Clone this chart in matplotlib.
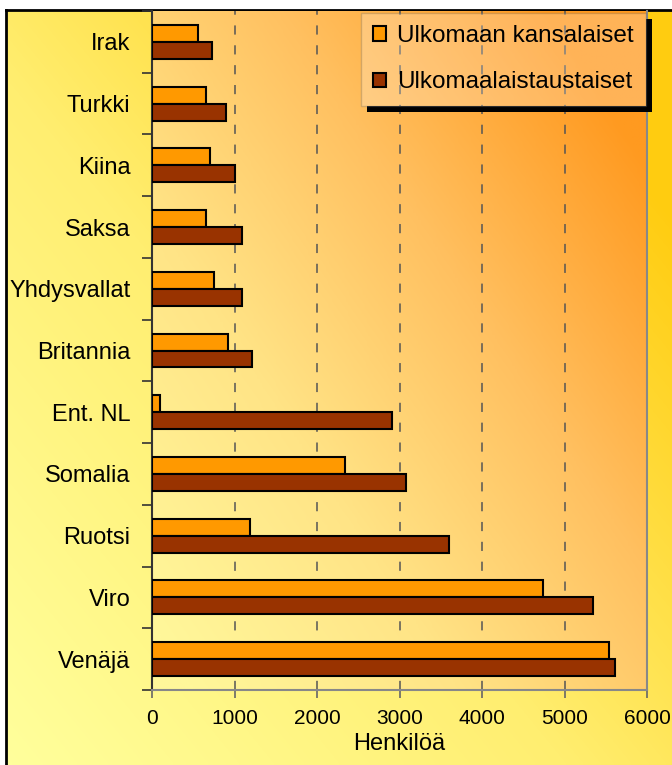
import numpy as np
import matplotlib
matplotlib.use("Agg")
import matplotlib.pyplot as plt
from matplotlib.colors import LinearSegmentedColormap
from matplotlib.patches import Rectangle

plt.rcParams['font.family'] = ['Liberation Sans', 'DejaVu Sans']

# Data (bottom to top)
categories = ["Venäjä", "Viro", "Ruotsi", "Somalia", "Ent. NL", "Britannia",
              "Yhdysvallat", "Saksa", "Kiina", "Turkki", "Irak"]
kansalaiset = [5540, 4740, 1185, 2345, 95, 920, 750, 655, 700, 655, 555]
taustaiset = [5610, 5345, 3605, 3075, 2905, 1210, 1090, 1090, 1000, 895, 725]
xticks = [0, 1000, 2000, 3000, 4000, 5000, 6000]
series_names = ["Ulkomaan kansalaiset", "Ulkomaalaistaustaiset"]

W, H = 672, 765
fig = plt.figure(figsize=(W / 100, H / 100), dpi=100)
fig.patch.set_facecolor('white')

# Figure background gradient with border
bx0, by1 = 6 / W, (H - 10) / H
bg = fig.add_axes([bx0, 0, 1 - bx0 + 0.01, by1], zorder=-10)
yy, xx = np.mgrid[0:1:200j, 0:1:200j]
t = np.clip((xx * 0.6 + yy * 0.55), 0, 1)
cm_fig = LinearSegmentedColormap.from_list("f", ["#FFFF9C", "#FFEE70", "#FFCC10"])
bg.imshow(t, cmap=cm_fig, origin='lower', extent=[0, 1, 0, 1], aspect='auto',
          interpolation='bilinear')
bg.set_xlim(0, 1)
bg.set_ylim(0, 1)
bg.set_xticks([])
bg.set_yticks([])
for s in ['top', 'left']:
    bg.spines[s].set_linewidth(2.0)
    bg.spines[s].set_color('black')
for s in ['right', 'bottom']:
    bg.spines[s].set_visible(False)

# Main axes
L, R = 152 / W, 647 / W
B, T = (H - 690) / H, (H - 11) / H
ax = fig.add_axes([L, B, R - L, T - B])
ax.set_xlim(0, 6000)
ax.set_ylim(-0.5, len(categories) - 0.5)

cm_ax = LinearSegmentedColormap.from_list("a", ["#FFF79A", "#FFE486", "#FFC060", "#FF9A20"])
yy2, xx2 = np.mgrid[0:1:200j, 0:1:200j]
t2 = np.clip(xx2 * 0.62 + yy2 * 0.55 - 0.05, 0, 1)
ax.imshow(t2, cmap=cm_ax, origin='lower',
          extent=[0, 6000, -0.5, len(categories) - 0.5], aspect='auto',
          interpolation='bilinear', zorder=0)

y = np.arange(len(categories))
h = 0.275
ax.barh(y + h / 2, kansalaiset, height=h, color='#FF9900', edgecolor='black',
        linewidth=1.5, zorder=3, label=series_names[0])
ax.barh(y - h / 2, taustaiset, height=h, color='#993300', edgecolor='black',
        linewidth=1.5, zorder=3, label=series_names[1])

for xv in xticks[1:-1]:
    ax.axvline(xv, color='#555555', linewidth=1.1, dashes=(6, 7), zorder=1)

ax.set_xticks(xticks)
ax.set_xticklabels([str(v) for v in xticks], fontsize=15)
ax.set_yticks(y)
ax.set_yticklabels(categories, fontsize=17)
ax.set_yticks(np.arange(-0.5, len(categories)), minor=True)
ax.tick_params(axis='y', which='major', length=0, pad=15.5)
ax.tick_params(axis='y', which='minor', length=7, width=1.2, color='#333333')
ax.tick_params(axis='x', which='major', length=6, width=1.2, color='#666666', pad=8)
ax.set_xlabel("Henkilöä", fontsize=17, labelpad=3)

ax.spines['left'].set_color('#333333')
ax.spines['left'].set_linewidth(1.5)
ax.spines['bottom'].set_color('#888888')
ax.spines['bottom'].set_linewidth(1.5)
ax.spines['right'].set_color('#888888')
ax.spines['right'].set_linewidth(1.5)
ax.spines['top'].set_visible(False)

leg = ax.legend(loc='upper right', bbox_to_anchor=(0.998, 0.997), fontsize=17.5,
                frameon=True, fancybox=False, facecolor='white', framealpha=0.25,
                edgecolor='#555555', handlelength=0.55, handleheight=0.55,
                handletextpad=0.45, labelspacing=1.0, borderpad=0.5,
                borderaxespad=0.0)
leg.get_frame().set_linewidth(1.0)
for hnd in leg.legend_handles:
    hnd.set_linewidth(1.5)
leg.set_zorder(10)

fig.canvas.draw()
bb = leg.get_window_extent()
off = 6
sh_kw = dict(transform=None, facecolor='black', edgecolor='none', zorder=9,
             clip_on=False)
ax.add_artist(Rectangle((bb.x1, bb.y0 - off), off, bb.height, **sh_kw))
ax.add_artist(Rectangle((bb.x0 + off, bb.y0 - off), bb.width, off, **sh_kw))

fig.savefig("out.png", dpi=100)
